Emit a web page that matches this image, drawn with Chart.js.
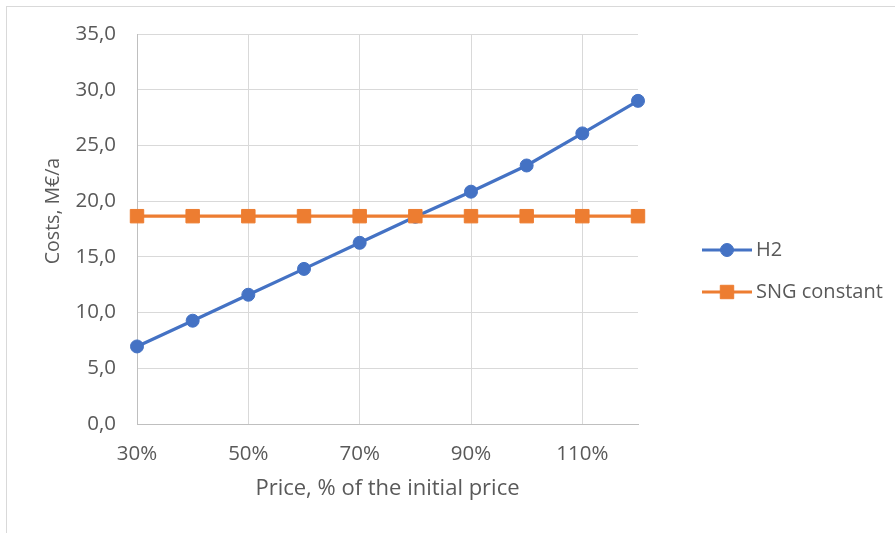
<!DOCTYPE html>
<html>
<head>
<meta charset="utf-8">
<script src="https://cdn.jsdelivr.net/npm/chart.js@4/dist/chart.umd.min.js"></script>
<style>
  html, body { margin: 0; padding: 0; background: #fff; }
  canvas { display: block; }
</style>
</head>
<body>
<canvas id="costChart" width="895" height="533"></canvas>
<script>
// Price level as a share of the initial price
const priceLevels = ['30%', '40%', '50%', '60%', '70%', '80%', '90%', '100%', '110%', '120%'];
// Annual costs, M€/a
const h2Costs  = [6.96, 9.27, 11.6, 13.92, 16.26, 18.6, 20.85, 23.2, 26.08, 29.0];
const sngCosts = [18.65, 18.65, 18.65, 18.65, 18.65, 18.65, 18.65, 18.65, 18.65, 18.65];
const seriesNames = ['H2', 'SNG constant'];
const yAxisTitle = 'Costs, M€/a';
const xAxisTitle = 'Price, % of the initial price';

const FONT = '"Open Sans", "Liberation Sans", sans-serif';
const TEXT = '#595959';
const GRID = '#d9d9d9';
const AXIS = '#bfbfbf';

// light frame round the whole chart
const framePlugin = {
  id: 'frame',
  beforeDraw(chart) {
    const ctx = chart.ctx;
    ctx.save();
    ctx.strokeStyle = GRID;
    ctx.lineWidth = 1;
    ctx.strokeRect(6.5, 6.5, chart.width + 50, chart.height + 50);
    ctx.restore();
  }
};

// y-axis title, placed a little above the plot's middle
const yTitlePlugin = {
  id: 'yTitle',
  afterDraw(chart) {
    const ctx = chart.ctx, a = chart.chartArea;
    ctx.save();
    ctx.font = '19.5px ' + FONT;
    ctx.fillStyle = TEXT;
    ctx.textAlign = 'center';
    ctx.textBaseline = 'middle';
    ctx.translate(a.left - 84, (a.top + a.bottom) / 2 - 18);
    ctx.rotate(-Math.PI / 2);
    ctx.fillText(yAxisTitle, 0, 0);
    ctx.restore();
  }
};

// legend: line sample with its marker, then the series name
const lineLegendPlugin = {
  id: 'lineLegend',
  afterDraw(chart) {
    const ctx = chart.ctx, a = chart.chartArea;
    const x0 = a.right + 64, x1 = a.right + 114, tx = a.right + 118;
    const rowY = [(a.top + a.bottom) / 2 + 21, (a.top + a.bottom) / 2 + 63];
    chart.data.datasets.forEach((ds, i) => {
      const y = rowY[i];
      ctx.save();
      ctx.strokeStyle = ds.borderColor;
      ctx.lineWidth = ds.borderWidth;
      ctx.beginPath();
      ctx.moveTo(x0, y);
      ctx.lineTo(x1, y);
      ctx.stroke();
      ctx.fillStyle = ds.backgroundColor;
      ctx.lineWidth = 1;
      Chart.helpers.drawPoint(ctx, {
        pointStyle: ds.pointStyle,
        radius: ds.pointRadius,
        borderWidth: 1,
        rotation: 0
      }, (x0 + x1) / 2, y);
      ctx.restore();
      ctx.save();
      ctx.font = '20px ' + FONT;
      ctx.fillStyle = TEXT;
      ctx.textAlign = 'left';
      ctx.textBaseline = 'middle';
      ctx.fillText(ds.label, tx, y);
      ctx.restore();
    });
  }
};

new Chart(document.getElementById('costChart'), {
  type: 'line',
  data: {
    labels: priceLevels,
    datasets: [
      {
        label: seriesNames[0],
        data: h2Costs,
        borderColor: '#4472c4',
        backgroundColor: '#4472c4',
        borderWidth: 3.2,
        pointStyle: 'circle',
        pointRadius: 6.5,
        pointBorderWidth: 1,
        order: 1,
        clip: false
      },
      {
        label: seriesNames[1],
        data: sngCosts,
        borderColor: '#ed7d31',
        backgroundColor: '#ed7d31',
        borderWidth: 3.2,
        pointStyle: 'rect',
        pointRadius: 9.5,
        pointBorderWidth: 1,
        order: 0,
        clip: false
      }
    ]
  },
  options: {
    responsive: false,
    animation: false,
    events: [],
    layout: { padding: { left: 0, top: 34, right: 257, bottom: 0 } },
    plugins: { legend: { display: false }, tooltip: { enabled: false } },
    scales: {
      x: {
        type: 'category',
        offset: false,
        afterFit(scale) { scale.height = 109; },
        border: { display: true, color: AXIS, width: 1 },
        grid: {
          drawTicks: false,
          color: ctx => (ctx.index % 2 === 0 ? GRID : 'rgba(0,0,0,0)'),
          lineWidth: 1
        },
        ticks: {
          autoSkip: false,
          maxRotation: 0,
          padding: 18,
          color: TEXT,
          font: { family: FONT, size: 20.5 },
          callback: (v, i) => (i % 2 === 0 ? priceLevels[i] : '')
        },
        title: {
          display: true,
          text: xAxisTitle,
          color: TEXT,
          font: { family: FONT, size: 22 },
          padding: { top: 0, bottom: 31 }
        }
      },
      y: {
        min: 0,
        max: 35,
        afterFit(scale) { scale.width = 137; },
        border: { display: true, color: AXIS, width: 1 },
        grid: { drawTicks: false, color: GRID, lineWidth: 1 },
        ticks: {
          stepSize: 5,
          padding: 21,
          color: TEXT,
          font: { family: FONT, size: 20.5 },
          callback: v => v.toFixed(1).replace('.', ',')
        }
      }
    }
  },
  plugins: [framePlugin, yTitlePlugin, lineLegendPlugin]
});
</script>
</body>
</html>
